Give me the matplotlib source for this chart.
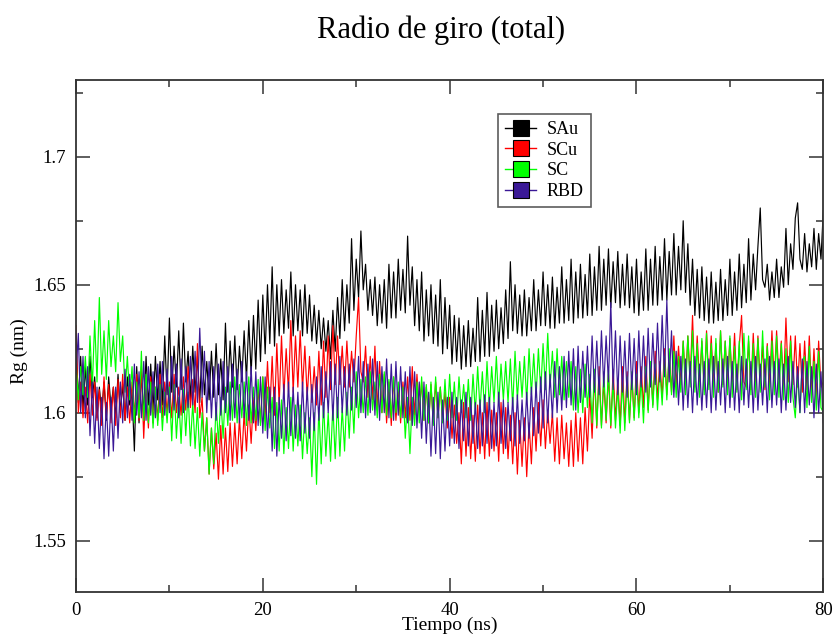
import numpy as np
import matplotlib
matplotlib.use("Agg")
import matplotlib.pyplot as plt
from matplotlib.lines import Line2D
from matplotlib.ticker import MultipleLocator

plt.rcParams["font.family"] = ["Liberation Serif", "DejaVu Serif"]

# radius of gyration (nm), one value every 0.25 ns from 0 to 80 ns
tiempo = np.arange(0, 80.001, 0.25)

rg_sau = [
    1.630, 1.604, 1.622, 1.601, 1.618, 1.603, 1.622, 1.606,
    1.614, 1.598, 1.610, 1.600, 1.612, 1.597, 1.614, 1.602,
    1.610, 1.598, 1.615, 1.600, 1.611, 1.597, 1.614, 1.603,
    1.608, 1.585, 1.618, 1.596, 1.616, 1.599, 1.622, 1.603,
    1.619, 1.601, 1.622, 1.605, 1.620, 1.603, 1.630, 1.607,
    1.637, 1.608, 1.626, 1.610, 1.632, 1.609, 1.635, 1.612,
    1.624, 1.605, 1.626, 1.608, 1.622, 1.604, 1.626, 1.607,
    1.620, 1.605, 1.624, 1.606, 1.627, 1.607, 1.621, 1.605,
    1.635, 1.608, 1.628, 1.610, 1.630, 1.609, 1.626, 1.612,
    1.632, 1.613, 1.636, 1.615, 1.638, 1.617, 1.644, 1.620,
    1.646, 1.623, 1.650, 1.627, 1.657, 1.626, 1.650, 1.630,
    1.652, 1.631, 1.648, 1.633, 1.655, 1.630, 1.650, 1.632,
    1.648, 1.630, 1.650, 1.631, 1.646, 1.628, 1.642, 1.627,
    1.640, 1.625, 1.637, 1.624, 1.636, 1.621, 1.640, 1.624,
    1.645, 1.629, 1.652, 1.632, 1.650, 1.635, 1.668, 1.640,
    1.660, 1.645, 1.671, 1.648, 1.658, 1.640, 1.652, 1.638,
    1.653, 1.634, 1.650, 1.635, 1.652, 1.633, 1.658, 1.637,
    1.655, 1.637, 1.660, 1.640, 1.656, 1.639, 1.669, 1.642,
    1.657, 1.634, 1.652, 1.632, 1.655, 1.628, 1.648, 1.630,
    1.650, 1.627, 1.646, 1.626, 1.652, 1.623, 1.645, 1.625,
    1.642, 1.619, 1.638, 1.620, 1.637, 1.617, 1.634, 1.618,
    1.636, 1.618, 1.633, 1.620, 1.645, 1.620, 1.640, 1.622,
    1.647, 1.622, 1.642, 1.624, 1.644, 1.625, 1.641, 1.627,
    1.648, 1.629, 1.659, 1.632, 1.650, 1.631, 1.646, 1.630,
    1.648, 1.630, 1.645, 1.632, 1.652, 1.632, 1.648, 1.634,
    1.655, 1.634, 1.650, 1.633, 1.653, 1.633, 1.649, 1.635,
    1.657, 1.635, 1.652, 1.636, 1.660, 1.635, 1.655, 1.637,
    1.658, 1.637, 1.654, 1.638, 1.662, 1.638, 1.657, 1.640,
    1.665, 1.640, 1.660, 1.642, 1.664, 1.641, 1.659, 1.643,
    1.663, 1.641, 1.658, 1.642, 1.662, 1.641, 1.657, 1.639,
    1.660, 1.638, 1.655, 1.640, 1.664, 1.640, 1.660, 1.642,
    1.665, 1.642, 1.661, 1.644, 1.668, 1.644, 1.663, 1.646,
    1.670, 1.646, 1.665, 1.648, 1.675, 1.647, 1.666, 1.642,
    1.660, 1.638, 1.656, 1.637, 1.657, 1.636, 1.653, 1.635,
    1.655, 1.635, 1.651, 1.636, 1.656, 1.636, 1.652, 1.638,
    1.660, 1.638, 1.655, 1.640, 1.662, 1.641, 1.658, 1.643,
    1.668, 1.644, 1.662, 1.648, 1.665, 1.680, 1.652, 1.649,
    1.658, 1.644, 1.655, 1.645, 1.660, 1.645, 1.657, 1.649,
    1.672, 1.650, 1.666, 1.656, 1.676, 1.682, 1.660, 1.656,
    1.670, 1.655, 1.666, 1.657, 1.672, 1.656, 1.670, 1.660,
    1.679,
]

rg_scu = [
    1.634, 1.600, 1.612, 1.598, 1.610, 1.596, 1.615, 1.599,
    1.612, 1.597, 1.609, 1.595, 1.614, 1.598, 1.611, 1.596,
    1.610, 1.595, 1.613, 1.598, 1.615, 1.597, 1.610, 1.596,
    1.612, 1.599, 1.615, 1.597, 1.618, 1.590, 1.612, 1.594,
    1.614, 1.596, 1.610, 1.597, 1.615, 1.598, 1.612, 1.600,
    1.612, 1.598, 1.615, 1.600, 1.610, 1.599, 1.614, 1.601,
    1.618, 1.602, 1.613, 1.600, 1.627, 1.598, 1.606, 1.585,
    1.598, 1.576, 1.594, 1.578, 1.592, 1.574, 1.595, 1.576,
    1.594, 1.577, 1.596, 1.579, 1.596, 1.580, 1.598, 1.582,
    1.600, 1.585, 1.603, 1.588, 1.606, 1.593, 1.610, 1.596,
    1.614, 1.598, 1.620, 1.600, 1.622, 1.599, 1.627, 1.603,
    1.630, 1.606, 1.625, 1.608, 1.636, 1.608, 1.630, 1.610,
    1.632, 1.609, 1.626, 1.606, 1.622, 1.604, 1.618, 1.603,
    1.624, 1.603, 1.628, 1.606, 1.630, 1.609, 1.634, 1.611,
    1.630, 1.611, 1.626, 1.610, 1.628, 1.610, 1.624, 1.612,
    1.630, 1.645, 1.616, 1.612, 1.626, 1.606, 1.622, 1.605,
    1.626, 1.601, 1.620, 1.600, 1.615, 1.596, 1.612, 1.595,
    1.614, 1.597, 1.610, 1.596, 1.612, 1.598, 1.614, 1.597,
    1.618, 1.599, 1.615, 1.600, 1.612, 1.597, 1.610, 1.596,
    1.611, 1.596, 1.612, 1.598, 1.610, 1.597, 1.608, 1.594,
    1.606, 1.590, 1.603, 1.588, 1.600, 1.580, 1.604, 1.583,
    1.602, 1.582, 1.599, 1.581, 1.603, 1.584, 1.600, 1.582,
    1.604, 1.583, 1.601, 1.585, 1.600, 1.581, 1.604, 1.584,
    1.602, 1.582, 1.599, 1.580, 1.600, 1.576, 1.597, 1.579,
    1.598, 1.575, 1.596, 1.580, 1.602, 1.585, 1.604, 1.587,
    1.605, 1.586, 1.601, 1.588, 1.600, 1.581, 1.598, 1.580,
    1.599, 1.582, 1.596, 1.579, 1.597, 1.579, 1.600, 1.581,
    1.598, 1.580, 1.602, 1.585, 1.608, 1.590, 1.615, 1.594,
    1.618, 1.595, 1.612, 1.596, 1.615, 1.594, 1.617, 1.597,
    1.613, 1.595, 1.618, 1.596, 1.616, 1.597, 1.614, 1.598,
    1.620, 1.600, 1.618, 1.602, 1.622, 1.601, 1.619, 1.603,
    1.624, 1.605, 1.620, 1.606, 1.625, 1.607, 1.622, 1.608,
    1.630, 1.610, 1.626, 1.611, 1.628, 1.612, 1.630, 1.613,
    1.638, 1.610, 1.630, 1.612, 1.628, 1.609, 1.632, 1.611,
    1.630, 1.610, 1.627, 1.608, 1.632, 1.611, 1.628, 1.610,
    1.629, 1.612, 1.631, 1.609, 1.626, 1.638, 1.612, 1.610,
    1.628, 1.609, 1.631, 1.611, 1.630, 1.612, 1.626, 1.609,
    1.627, 1.610, 1.632, 1.612, 1.632, 1.613, 1.628, 1.610,
    1.637, 1.612, 1.630, 1.611, 1.630, 1.610, 1.627, 1.608,
    1.628, 1.609, 1.630, 1.607, 1.625, 1.606, 1.628, 1.610,
    1.612,
]

rg_sc = [
    1.620, 1.605, 1.618, 1.607, 1.622, 1.606, 1.630, 1.610,
    1.636, 1.612, 1.645, 1.615, 1.632, 1.613, 1.636, 1.618,
    1.630, 1.616, 1.643, 1.620, 1.630, 1.608, 1.622, 1.605,
    1.618, 1.596, 1.612, 1.598, 1.624, 1.597, 1.615, 1.596,
    1.612, 1.594, 1.610, 1.595, 1.611, 1.593, 1.608, 1.596,
    1.610, 1.589, 1.611, 1.590, 1.606, 1.588, 1.609, 1.591,
    1.608, 1.587, 1.604, 1.586, 1.602, 1.583, 1.600, 1.585,
    1.598, 1.576, 1.594, 1.580, 1.604, 1.588, 1.606, 1.590,
    1.610, 1.595, 1.612, 1.597, 1.614, 1.596, 1.611, 1.598,
    1.612, 1.595, 1.614, 1.596, 1.610, 1.597, 1.613, 1.595,
    1.614, 1.593, 1.610, 1.594, 1.606, 1.586, 1.604, 1.585,
    1.605, 1.584, 1.602, 1.586, 1.606, 1.585, 1.603, 1.587,
    1.603, 1.582, 1.600, 1.584, 1.598, 1.575, 1.600, 1.572,
    1.602, 1.580, 1.604, 1.583, 1.600, 1.581, 1.603, 1.582,
    1.606, 1.583, 1.602, 1.585, 1.608, 1.590, 1.610, 1.592,
    1.616, 1.598, 1.613, 1.600, 1.614, 1.599, 1.616, 1.601,
    1.612, 1.598, 1.615, 1.600, 1.616, 1.599, 1.613, 1.598,
    1.614, 1.600, 1.612, 1.598, 1.610, 1.590, 1.606, 1.584,
    1.606, 1.595, 1.612, 1.596, 1.614, 1.597, 1.611, 1.596,
    1.612, 1.595, 1.614, 1.598, 1.610, 1.596, 1.613, 1.597,
    1.615, 1.598, 1.612, 1.597, 1.614, 1.600, 1.611, 1.598,
    1.613, 1.597, 1.615, 1.600, 1.618, 1.601, 1.616, 1.600,
    1.620, 1.602, 1.618, 1.604, 1.622, 1.603, 1.619, 1.605,
    1.620, 1.604, 1.621, 1.602, 1.624, 1.605, 1.620, 1.606,
    1.622, 1.604, 1.625, 1.607, 1.623, 1.606, 1.625, 1.608,
    1.627, 1.609, 1.631, 1.610, 1.624, 1.606, 1.625, 1.607,
    1.622, 1.605, 1.620, 1.606, 1.620, 1.601, 1.618, 1.600,
    1.617, 1.600, 1.619, 1.602, 1.615, 1.596, 1.617, 1.595,
    1.614, 1.594, 1.616, 1.597, 1.617, 1.595, 1.612, 1.594,
    1.610, 1.592, 1.612, 1.593, 1.614, 1.596, 1.616, 1.597,
    1.615, 1.598, 1.613, 1.596, 1.618, 1.600, 1.620, 1.602,
    1.619, 1.601, 1.617, 1.603, 1.622, 1.605, 1.625, 1.607,
    1.624, 1.606, 1.622, 1.608, 1.628, 1.607, 1.630, 1.610,
    1.632, 1.608, 1.627, 1.606, 1.629, 1.607, 1.631, 1.609,
    1.627, 1.606, 1.629, 1.608, 1.632, 1.610, 1.628, 1.607,
    1.630, 1.606, 1.626, 1.608, 1.628, 1.605, 1.631, 1.609,
    1.630, 1.607, 1.627, 1.606, 1.629, 1.608, 1.632, 1.610,
    1.626, 1.605, 1.628, 1.607, 1.630, 1.606, 1.627, 1.605,
    1.625, 1.604, 1.628, 1.606, 1.598, 1.615, 1.600, 1.620,
    1.622, 1.602, 1.626, 1.604, 1.620, 1.601, 1.624, 1.602,
    1.600,
]

rg_rbd = [
    1.615, 1.631, 1.600, 1.622, 1.598, 1.618, 1.591, 1.612,
    1.588, 1.610, 1.586, 1.606, 1.582, 1.604, 1.583, 1.606,
    1.585, 1.610, 1.590, 1.612, 1.596, 1.617, 1.598, 1.615,
    1.597, 1.619, 1.599, 1.616, 1.598, 1.620, 1.597, 1.618,
    1.599, 1.616, 1.598, 1.619, 1.600, 1.620, 1.599, 1.617,
    1.600, 1.622, 1.601, 1.619, 1.598, 1.621, 1.600, 1.618,
    1.602, 1.622, 1.603, 1.624, 1.604, 1.633, 1.606, 1.624,
    1.600, 1.620, 1.598, 1.618, 1.597, 1.619, 1.599, 1.620,
    1.600, 1.618, 1.597, 1.619, 1.598, 1.617, 1.596, 1.620,
    1.598, 1.616, 1.597, 1.618, 1.596, 1.616, 1.595, 1.614,
    1.592, 1.614, 1.590, 1.610, 1.585, 1.610, 1.583, 1.606,
    1.590, 1.611, 1.589, 1.612, 1.591, 1.610, 1.590, 1.608,
    1.589, 1.612, 1.592, 1.610, 1.590, 1.611, 1.593, 1.614,
    1.597, 1.618, 1.598, 1.616, 1.600, 1.620, 1.597, 1.619,
    1.598, 1.622, 1.600, 1.618, 1.599, 1.619, 1.601, 1.621,
    1.602, 1.622, 1.600, 1.620, 1.598, 1.619, 1.600, 1.621,
    1.599, 1.620, 1.597, 1.618, 1.600, 1.621, 1.598, 1.619,
    1.597, 1.620, 1.599, 1.618, 1.598, 1.616, 1.596, 1.618,
    1.595, 1.616, 1.594, 1.612, 1.590, 1.612, 1.588, 1.608,
    1.583, 1.606, 1.584, 1.608, 1.582, 1.605, 1.585, 1.606,
    1.587, 1.608, 1.588, 1.606, 1.586, 1.605, 1.589, 1.608,
    1.587, 1.606, 1.588, 1.604, 1.586, 1.605, 1.587, 1.607,
    1.588, 1.606, 1.586, 1.604, 1.587, 1.608, 1.588, 1.605,
    1.586, 1.604, 1.589, 1.606, 1.587, 1.607, 1.588, 1.605,
    1.589, 1.608, 1.590, 1.610, 1.591, 1.612, 1.592, 1.614,
    1.594, 1.616, 1.596, 1.615, 1.598, 1.620, 1.600, 1.618,
    1.601, 1.622, 1.602, 1.624, 1.603, 1.625, 1.601, 1.626,
    1.604, 1.624, 1.606, 1.626, 1.606, 1.630, 1.608, 1.628,
    1.607, 1.632, 1.610, 1.630, 1.612, 1.643, 1.609, 1.632,
    1.607, 1.630, 1.608, 1.628, 1.606, 1.631, 1.609, 1.629,
    1.607, 1.632, 1.610, 1.630, 1.608, 1.633, 1.610, 1.631,
    1.611, 1.635, 1.612, 1.638, 1.614, 1.644, 1.612, 1.632,
    1.606, 1.624, 1.603, 1.622, 1.601, 1.621, 1.602, 1.620,
    1.600, 1.622, 1.603, 1.619, 1.601, 1.620, 1.602, 1.621,
    1.600, 1.622, 1.601, 1.620, 1.603, 1.621, 1.600, 1.622,
    1.602, 1.620, 1.601, 1.619, 1.600, 1.622, 1.603, 1.621,
    1.602, 1.620, 1.600, 1.622, 1.601, 1.619, 1.603, 1.621,
    1.600, 1.622, 1.602, 1.620, 1.603, 1.621, 1.600, 1.619,
    1.601, 1.622, 1.604, 1.620, 1.602, 1.618, 1.600, 1.621,
    1.600, 1.620, 1.603, 1.618, 1.598, 1.619, 1.600, 1.616,
    1.596,
]

etiquetas = ["SAu", "SCu", "SC", "RBD"]
colores = ["black", "#ff0000", "#00ff00", "#3a1896"]

fig = plt.figure(figsize=(8.35, 6.35), dpi=100)
ax = fig.add_axes([0.091, 0.068, 0.895, 0.806])

manijas = []
for serie, nombre, col in zip([rg_sau, rg_scu, rg_sc, rg_rbd], etiquetas, colores):
    ax.plot(tiempo, serie, color=col, lw=0.85)
    manijas.append(Line2D([], [], color=col, lw=1.0, marker="s", markersize=11,
                          markerfacecolor=col, markeredgecolor="black",
                          markeredgewidth=0.8, label=nombre))

ax.set_xlim(0, 80)
ax.set_ylim(1.53, 1.73)
ax.xaxis.set_major_locator(MultipleLocator(20))
ax.xaxis.set_minor_locator(MultipleLocator(10))
ax.yaxis.set_minor_locator(MultipleLocator(0.025))
ax.set_yticks([1.55, 1.6, 1.65, 1.7])
ax.set_yticklabels(["1.55", "1.6", "1.65", "1.7"])

ax.tick_params(which="both", direction="in", top=True, right=True,
               width=1.1, colors="#333333", labelcolor="black", labelsize=13.5)
ax.tick_params(which="major", length=10, pad=7)
ax.tick_params(which="minor", length=5)
for sp in ax.spines.values():
    sp.set_linewidth(1.3)
    sp.set_color("#333333")

ax.set_xlabel("Tiempo (ns)", fontsize=14, labelpad=-1)
ax.set_ylabel("Rg (nm)", fontsize=14)
ax.yaxis.set_label_coords(-0.064, 0.47)
fig.text(0.528, 0.952, "Radio de giro (total)", ha="center", va="center", fontsize=22)

leg = ax.legend(handles=manijas, loc="upper left", bbox_to_anchor=(0.565, 0.934),
                borderaxespad=0, fontsize=13, numpoints=1, frameon=True,
                fancybox=False, handlelength=1.7, handletextpad=0.6,
                borderpad=0.4, labelspacing=0.2)
leg.get_frame().set_edgecolor("#333333")
leg.get_frame().set_linewidth(1.2)

fig.savefig("out.png", dpi=100)
